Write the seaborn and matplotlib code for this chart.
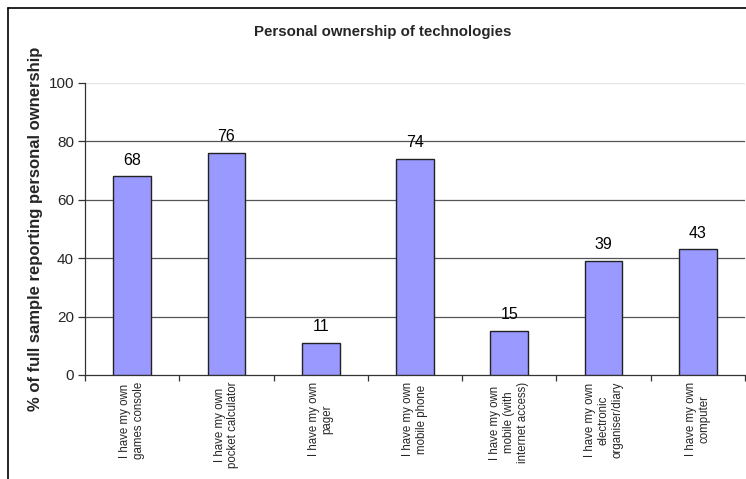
import matplotlib
matplotlib.use("Agg")
import matplotlib.pyplot as plt
from matplotlib.lines import Line2D
import seaborn as sns
import pandas as pd

categories = [
    "I have my own\ngames console",
    "I have my own\npocket calculator",
    "I have my own\npager",
    "I have my own\nmobile phone",
    "I have my own\nmobile (with\ninternet access)",
    "I have my own\nelectronic\norganiser/diary",
    "I have my own\ncomputer",
]
values = [68, 76, 11, 74, 15, 39, 43]
y_ticks = [0, 20, 40, 60, 80, 100]

df = pd.DataFrame({"item": categories, "pct": values})

sns.set_theme(style="white")
plt.rcParams["font.family"] = ["Liberation Sans", "DejaVu Sans"]

fig = plt.figure(figsize=(7.46, 4.79), dpi=100)
ax = fig.add_axes([85 / 746, 1 - 375 / 479, 660 / 746, 292 / 479])

sns.barplot(data=df, x="item", y="pct", ax=ax, width=0.4,
            color="#9999FF", saturation=1, edgecolor="#222222", linewidth=1.0,
            zorder=3)

ax.set_xlim(-0.5, len(categories) - 0.5)
ax.set_ylim(0, 100)
ax.set_yticks(y_ticks)
ax.set_yticklabels([str(v) for v in y_ticks], fontsize=11)

# horizontal gridlines
for v in y_ticks[1:-1]:
    ax.axhline(v, color="#555555", linewidth=0.9, zorder=1)
ax.axhline(100, color="#e6e6e6", linewidth=1.0, zorder=1)

# category labels and boundary ticks
ax.set_xticks(range(len(categories)))
ax.set_xticklabels(categories, rotation=90, fontsize=8.3, ha="center", va="top",
                   multialignment="center")
ax.tick_params(axis="x", which="major", length=0, pad=5)
ax.set_xticks([i - 0.5 for i in range(len(categories) + 1)], minor=True)
ax.tick_params(axis="x", which="minor", length=4, width=0.9, color="#333333",
               direction="out", bottom=True)
ax.tick_params(axis="y", length=5, width=0.9, color="#333333", direction="out",
               left=True, pad=3)

for s in ["top", "right"]:
    ax.spines[s].set_visible(False)
for s in ["left", "bottom"]:
    ax.spines[s].set_color("#333333")
    ax.spines[s].set_linewidth(0.9)

# value labels above bars
for i, v in enumerate(values):
    ax.text(i, v + 3, str(v), ha="center", va="bottom", fontsize=11.5, color="black")

ax.set_xlabel("")
ax.set_ylabel("% of full sample reporting personal ownership", fontsize=12,
              fontweight="bold")
ax.yaxis.set_label_coords(-42 / 660, 0.5)

fig.text(383 / 746, 1 - 32 / 479, "Personal ownership of technologies",
         ha="center", va="center", fontsize=10.8, fontweight="bold")

# outer chart frame
fig.add_artist(Line2D([7.5 / 746, 7.5 / 746], [0, 1 - 8 / 479],
                      transform=fig.transFigure, color="black", linewidth=1.2))
fig.add_artist(Line2D([7.5 / 746, 1], [1 - 8 / 479, 1 - 8 / 479],
                      transform=fig.transFigure, color="black", linewidth=1.2))

fig.savefig("out.png", dpi=100)
